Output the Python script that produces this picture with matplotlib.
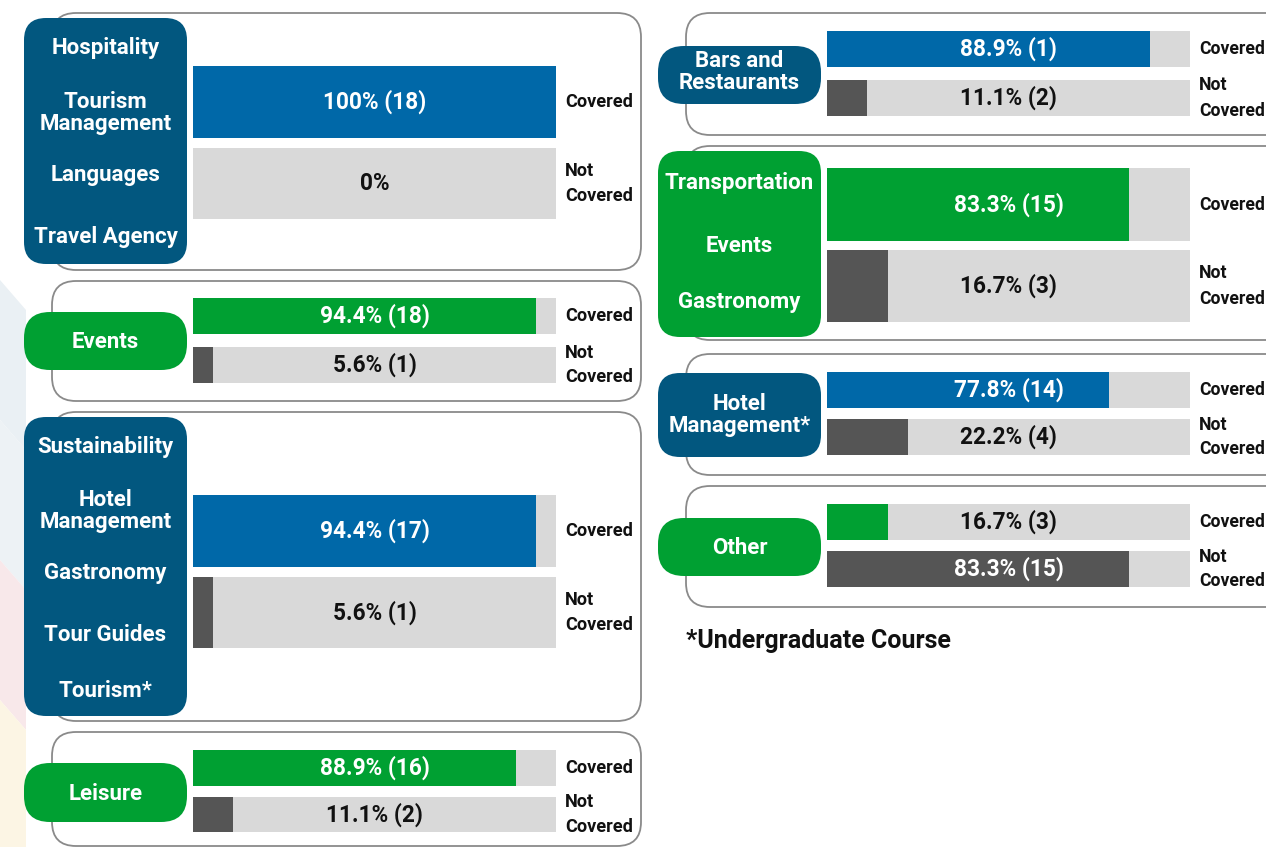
import matplotlib
matplotlib.use("Agg")
import matplotlib.pyplot as plt
from matplotlib.patches import FancyBboxPatch

plt.rcParams['font.family'] = ['Roboto', 'DejaVu Sans']

# ---------------- data ----------------
group_labels = [
    ["Hospitality", "Tourism\nManagement", "Languages", "Travel Agency"],
    ["Events"],
    ["Sustainability", "Hotel\nManagement", "Gastronomy", "Tour Guides", "Tourism*"],
    ["Leisure"],
    ["Bars and\nRestaurants"],
    ["Transportation", "Events", "Gastronomy"],
    ["Hotel\nManagement*"],
    ["Other"],
]
group_kind = ["blue", "green", "blue", "green", "blue", "green", "blue", "green"]
covered_pct = [100, 94.4, 94.4, 88.9, 88.9, 83.3, 77.8, 16.7]
covered_n = [18, 18, 17, 16, 1, 15, 14, 3]
not_covered_pct = [0, 5.6, 5.6, 11.1, 11.1, 16.7, 22.2, 83.3]
not_covered_n = [0, 1, 1, 2, 2, 3, 4, 15]
row_labels = ["Covered", "Not\nCovered"]
footnote = "*Undergraduate Course"

# ---------------- layout (pixels) ----------------
W, H = 1266, 847
layout = [
    dict(out=(52, 13, 641, 270), lab=(24, 18, 187, 264), bx=(193, 556), b1=(66, 138), b2=(148, 219),
         ty=[48, 113, 175, 237], lx=565, lfs=13.1),
    dict(out=(52, 281, 641, 401), lab=(24, 312, 187, 370), bx=(193, 556), b1=(298, 334), b2=(347, 383),
         ty=[342], lx=565, lfs=13.1),
    dict(out=(52, 412, 641, 721), lab=(24, 417, 187, 716), bx=(193, 556), b1=(495, 567), b2=(577, 648),
         ty=[447, 511, 573, 635, 691], lx=565, lfs=13.1),
    dict(out=(52, 732, 641, 846), lab=(24, 763, 187, 822), bx=(193, 556), b1=(750, 786), b2=(797, 832),
         ty=[794], lx=565, lfs=13.1),
    dict(out=(686, 13, 1290, 135), lab=(658, 46, 821, 104), bx=(827, 1190), b1=(31, 67), b2=(80, 116),
         ty=[72], lx=1199, lfs=12.7),
    dict(out=(686, 146, 1290, 340), lab=(658, 151, 821, 337), bx=(827, 1190), b1=(168, 241), b2=(250, 322),
         ty=[183, 246, 302], lx=1199, lfs=12.7),
    dict(out=(686, 354, 1290, 475), lab=(658, 373, 821, 457), bx=(827, 1190), b1=(372, 408), b2=(419, 455),
         ty=[415], lx=1199, lfs=12.7),
    dict(out=(686, 486, 1290, 607), lab=(658, 518, 821, 576), bx=(827, 1190), b1=(504, 540), b2=(551, 587),
         ty=[548], lx=1199, lfs=12.7),
]

C_BLUE = "#0068A8"
C_NAVY = "#02577F"
C_GREEN = "#00A032"
C_DARK = "#555555"
C_LIGHT = "#D9D9D9"
C_EDGE = "#8A8A8A"

fig = plt.figure(figsize=(W / 100, H / 100), dpi=100)
bg = fig.add_axes([0, 0, 1, 1])
bg.set_xlim(0, W)
bg.set_ylim(H, 0)
bg.axis("off")

# faint watermark stripes on the left edge
for (y0, y1, col) in [(280, 420, "#EAF0F4"), (420, 560, "#EDF2F5"), (560, 700, "#F8E8EA"), (700, 847, "#FCF5E4")]:
    bg.add_patch(plt.Polygon([(0, y0), (26, y0 + 30), (26, y1 + 30), (0, y1)], closed=True,
                             facecolor=col, edgecolor="none", zorder=0))


def rbox(x0, y0, x1, y1, r, fc, ec="none", lw=0, z=1):
    p = FancyBboxPatch((x0, y0), x1 - x0, y1 - y0,
                       boxstyle=f"round,pad=0,rounding_size={r}",
                       facecolor=fc, edgecolor=ec, linewidth=lw, zorder=z)
    bg.add_patch(p)


for i, L in enumerate(layout):
    ox0, oy0, ox1, oy1 = L["out"]
    rbox(ox0, oy0, ox1, oy1, 24, "white", C_EDGE, 1.3, z=1)
    lx0, ly0, lx1, ly1 = L["lab"]
    lab_col = C_NAVY if group_kind[i] == "blue" else C_GREEN
    rr = 22 if (ly1 - ly0) > 70 else 26
    rbox(lx0, ly0, lx1, ly1, rr, lab_col, z=2)
    cx = (lx0 + lx1) / 2
    for txt, ty in zip(group_labels[i], L["ty"]):
        bg.text(cx, ty, txt, ha="center", va="center", color="white", fontsize=16,
                fontweight="bold", linespacing=1.05, zorder=3)

    # bars axes
    bx0, bx1 = L["bx"]
    (a0, a1), (c0, c1) = L["b1"], L["b2"]
    top, bot = a0, c1
    ax = fig.add_axes([bx0 / W, 1 - bot / H, (bx1 - bx0) / W, (bot - top) / H])
    ax.set_facecolor("none")
    ax.axis("off")
    ax.set_xlim(0, 100)
    centers_px = [(a0 + a1) / 2, (c0 + c1) / 2]
    heights_px = [a1 - a0, c1 - c0]
    ax.set_ylim(bot, top)
    bar_col = C_BLUE if group_kind[i] == "blue" else C_GREEN
    vals = [covered_pct[i], not_covered_pct[i]]
    cnts = [covered_n[i], not_covered_n[i]]
    cols = [bar_col, C_DARK]
    ax.barh(centers_px, [100, 100], height=heights_px, color=C_LIGHT, edgecolor="none")
    ax.barh(centers_px, vals, height=heights_px, color=cols, edgecolor="none")
    for yc, v, n in zip(centers_px, vals, cnts):
        s = "0%" if v == 0 else f"{v:g}% ({n})"
        ax.text(50, yc, s, ha="center", va="center", fontsize=16.3, fontweight="bold",
                color="white" if v > 50 else "#111111")
    # row labels
    for yc, rl in zip(centers_px, row_labels):
        bg.text(L["lx"], yc, rl, ha="left", va="center", fontsize=L["lfs"], fontweight="bold",
                color="#111111", linespacing=1.5, zorder=3)

bg.text(686, 641, footnote, ha="left", va="center", fontsize=18, fontweight="bold", color="#111111")

fig.savefig("out.png", dpi=100)
